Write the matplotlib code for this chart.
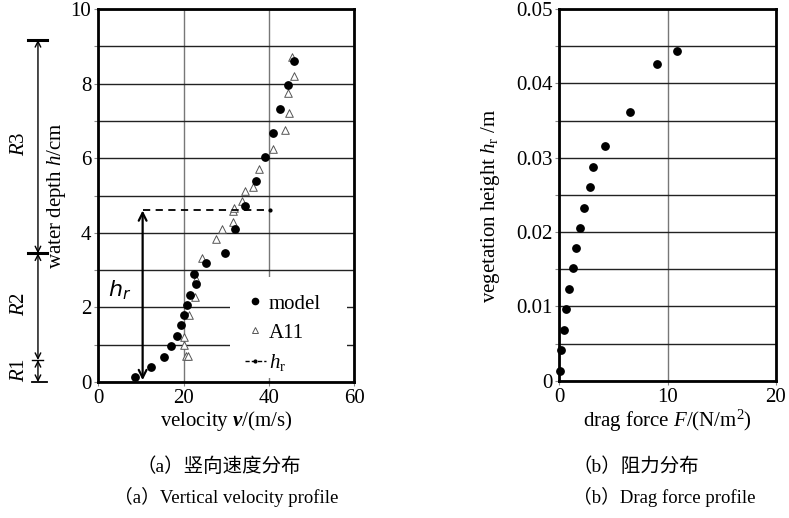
import matplotlib
matplotlib.use("Agg")
import matplotlib.pyplot as plt
from matplotlib.lines import Line2D
from matplotlib.patches import Rectangle
from matplotlib.ticker import MultipleLocator, FuncFormatter
import matplotlib.transforms as mtransforms

plt.rcParams['font.family'] = ['Liberation Serif', 'Noto Sans CJK SC']
plt.rcParams['mathtext.fontset'] = 'custom'
plt.rcParams['mathtext.rm'] = 'Liberation Serif'
plt.rcParams['mathtext.it'] = 'Liberation Serif:italic'
plt.rcParams['mathtext.bf'] = 'Liberation Serif:bold:italic'

# (a) velocity profile
model_v = [8.5, 12.4, 15.3, 17.1, 18.4, 19.3, 20.2, 20.8, 21.6, 22.9, 22.5, 25.3,
           29.7, 32.0, 34.4, 36.9, 39.1, 41.0, 42.7, 44.4, 45.9]
model_h = [0.13, 0.41, 0.68, 0.97, 1.24, 1.52, 1.80, 2.06, 2.34, 2.62, 2.90, 3.18,
           3.45, 4.09, 4.73, 5.38, 6.03, 6.68, 7.32, 7.97, 8.61]
a11_v = [20.5, 21.0, 20.1, 20.0, 21.3, 22.8, 22.9, 24.3, 27.6, 29.1, 31.7, 31.5,
         31.9, 33.6, 34.5, 36.3, 37.8, 41.0, 43.9, 44.7, 44.5, 45.9, 45.5]
a11_h = [0.70, 0.70, 0.99, 1.22, 1.79, 2.27, 2.77, 3.32, 3.83, 4.09, 4.29, 4.58,
         4.66, 4.85, 5.13, 5.22, 5.70, 6.26, 6.76, 7.22, 7.74, 8.20, 8.72]
hr_v = 10.4
hr = 4.6
hr_line_end = 40.2

# zones R1/R2/R3 (boundaries in h)
zone_bounds = [0.0, 0.59, 3.45, 9.17]
zone_labels = ['$R$1', '$R$2', '$R$3']

# (b) drag force profile
drag_F = [0.06, 0.16, 0.43, 0.65, 0.93, 1.23, 1.54, 1.91, 2.31, 2.87, 3.08, 4.19,
          6.57, 9.0, 10.88]
veg_h = [0.00135, 0.0041, 0.0068, 0.0096, 0.0123, 0.0151, 0.0178, 0.0205, 0.0233,
         0.0261, 0.0288, 0.0316, 0.0361, 0.0426, 0.0444]

fig = plt.figure(figsize=(7.89, 5.18), dpi=100)
ax1 = fig.add_axes([0.1246, 0.2625, 0.3241, 0.7201])
ax2 = fig.add_axes([0.7089, 0.2650, 0.2743, 0.7176])


def style_axes(ax):
    for s in ax.spines.values():
        s.set_linewidth(2.0)
        s.set_color('black')
    ax.tick_params(which='both', direction='out', length=3, width=0.8,
                   color='#888888', labelsize=15, pad=2)
    ax.set_axisbelow(True)


# ---- left panel
ax1.set_xlim(0, 60)
ax1.set_ylim(0, 10)
ax1.xaxis.set_major_locator(MultipleLocator(20))
ax1.yaxis.set_major_locator(MultipleLocator(2))
ax1.yaxis.set_minor_locator(MultipleLocator(1))
ax1.grid(True, axis='y', which='both', color='#222222', lw=1.0)
ax1.grid(True, axis='x', which='major', color='#777777', lw=1.0)
style_axes(ax1)

ax1.scatter(a11_v, a11_h, marker='^', s=30, facecolors='white',
            edgecolors='#555555', linewidths=0.7, zorder=3)
ax1.scatter(model_v, model_h, marker='o', s=28, color='black', zorder=4)

ax1.plot([hr_v, hr_line_end], [hr, hr], ls=(0, (4, 3)), color='black', lw=1.3, zorder=5)
ax1.plot([hr_line_end], [hr], marker='.', ms=4, color='black', zorder=5)
ax1.annotate('', xy=(hr_v, 0.05), xytext=(hr_v, hr),
             arrowprops=dict(arrowstyle='<->', lw=1.6, color='black',
                             shrinkA=0, shrinkB=0, mutation_scale=14), zorder=6)
ax1.text(5.1, 2.45, '$h_r$', fontsize=16, ha='center', va='center',
         math_fontfamily='dejavusans')

ax1.set_xlabel('velocity $\\mathbf{v}$/(m/s)', fontsize=15, labelpad=1)
ax1.set_ylabel('water depth $h$/cm', fontsize=15)
ax1.yaxis.set_label_coords(-0.118, 0.5)

# white legend area that hides the grid
ax1.add_patch(Rectangle((0.515, 0.011), 0.458, 0.27, transform=ax1.transAxes,
                        facecolor='white', edgecolor='none', zorder=1))
handles = [
    Line2D([], [], ls='none', marker='o', ms=4.5, color='black'),
    Line2D([], [], ls='none', marker='^', ms=4.5, mfc='white', mec='#555555', mew=0.7),
    Line2D([], [], ls=(0, (3, 1.5)), lw=1.0, marker='.', ms=4, color='black'),
]
leg = ax1.legend(handles, ['model', 'A11', '$h_\\mathrm{r}$'], loc='upper left',
                 bbox_to_anchor=(0.54, 0.258), borderaxespad=0, fontsize=15,
                 frameon=False, handlelength=1.0, handletextpad=0.15,
                 labelspacing=0.45, borderpad=0.4)
leg.set_zorder(7)

# zone dimension lines left of the axis
trans = mtransforms.blended_transform_factory(ax1.transAxes, ax1.transData)
xa = -0.236
for lo, hi in zip(zone_bounds[:-1], zone_bounds[1:]):
    ax1.annotate('', xy=(xa, lo), xytext=(xa, hi), xycoords=trans, textcoords=trans,
                 arrowprops=dict(arrowstyle='<->', lw=1.0, color='black',
                                 shrinkA=0, shrinkB=0, mutation_scale=10),
                 annotation_clip=False)
bar_w = [(-0.2, -0.258, 1.3), (-0.215, -0.258, 1.0), (-0.2, -0.275, 2.2), (-0.2, -0.275, 2.2)]
for h, (x0, x1, lw) in zip(zone_bounds, bar_w):
    ax1.plot([x1, x0], [h, h], color='black', lw=lw, transform=trans, clip_on=False)
label_y = [0.32, 2.1, 6.4]
for y, lab in zip(label_y, zone_labels):
    ax1.text(-0.31, y, lab, transform=trans, rotation=90, fontsize=15,
             ha='center', va='center')

# ---- right panel
ax2.set_xlim(0, 20)
ax2.set_ylim(0, 0.05)
ax2.xaxis.set_major_locator(MultipleLocator(10))
ax2.yaxis.set_major_locator(MultipleLocator(0.01))
ax2.yaxis.set_minor_locator(MultipleLocator(0.005))
ax2.yaxis.set_major_formatter(FuncFormatter(lambda v, p: '0' if v == 0 else f'{v:.2f}'))
ax2.grid(True, axis='y', which='both', color='#222222', lw=1.0)
ax2.grid(True, axis='x', which='major', color='#777777', lw=1.0)
style_axes(ax2)
ax2.scatter(drag_F, veg_h, marker='o', s=28, color='black', zorder=4, clip_on=False)
ax2.set_xlabel('drag force $F$/(N/m$^2$)', fontsize=15, labelpad=1)
ax2.set_ylabel('vegetation height $h_\\mathrm{r}$ /m', fontsize=15)
ax2.yaxis.set_label_coords(-0.265, 0.47)

# captions
fig.text(0.277, 0.100, '（a）竖向速度分布', fontsize=14, ha='center', va='center')
fig.text(0.287, 0.041, '（a）Vertical velocity profile', fontsize=13.5, ha='center', va='center')
fig.text(0.806, 0.100, '（b）阻力分布', fontsize=14, ha='center', va='center')
fig.text(0.842, 0.041, '（b）Drag force profile', fontsize=13.5, ha='center', va='center')

fig.savefig('out.png', dpi=100)
